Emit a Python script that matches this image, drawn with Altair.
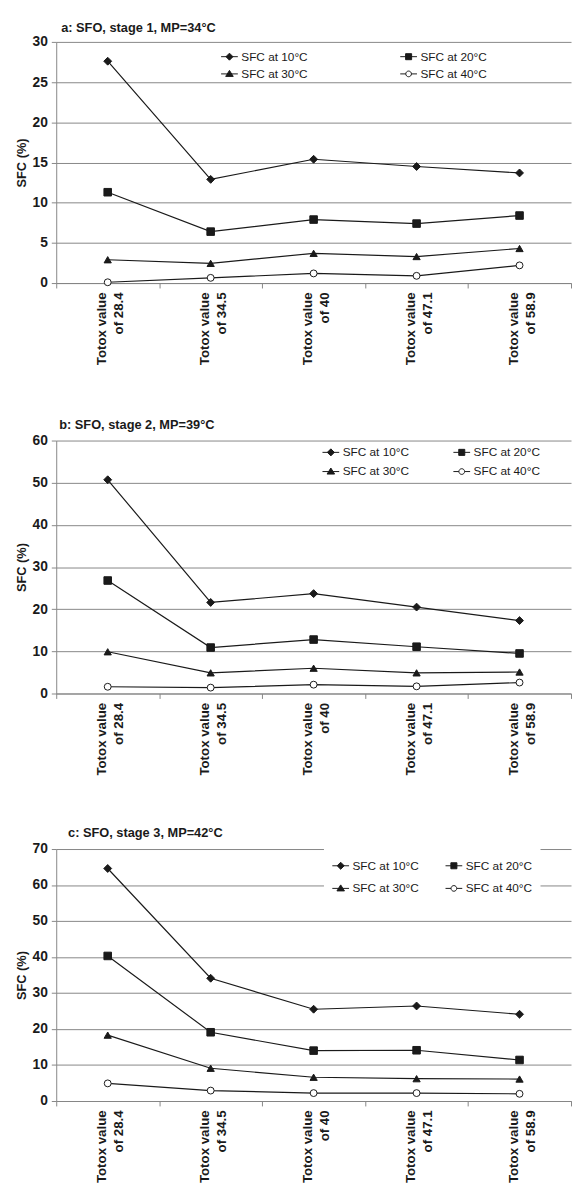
import altair as alt
import pandas as pd

categories = ["Totox value of 28.4", "Totox value of 34.5", "Totox value of 40",
              "Totox value of 47.1", "Totox value of 58.9"]
series = ["SFC at 10°C", "SFC at 20°C", "SFC at 30°C", "SFC at 40°C"]

# panel a: SFO, stage 1
a_10 = [27.6, 12.9, 15.4, 14.5, 13.7]
a_20 = [11.3, 6.4, 7.9, 7.4, 8.4]
a_30 = [2.9, 2.45, 3.7, 3.3, 4.3]
a_40 = [0.1, 0.65, 1.2, 0.9, 2.2]
# panel b: SFO, stage 2
b_10 = [50.7, 21.6, 23.7, 20.5, 17.3]
b_20 = [26.8, 10.9, 12.8, 11.1, 9.5]
b_30 = [9.9, 4.9, 6.0, 4.9, 5.1]
b_40 = [1.6, 1.4, 2.1, 1.7, 2.6]
# panel c: SFO, stage 3
c_10 = [64.6, 34.1, 25.5, 26.4, 24.1]
c_20 = [40.3, 19.1, 14.0, 14.1, 11.4]
c_30 = [18.3, 9.1, 6.6, 6.2, 6.1]
c_40 = [4.9, 2.9, 2.2, 2.2, 2.0]

titles = ["a: SFO, stage 1, MP=34°C", "b: SFO, stage 2, MP=39°C", "c: SFO, stage 3, MP=42°C"]

FONT = "Liberation Sans"
INK = "#1a1a1a"
GRID = "#868686"

chart_shapes = ["diamond", "square", "triangle-up", "circle"]
chart_sizes = [64, 49, 56, 40]
legend_shapes = [
    "M-1,0L1,0M0,-0.42L0.42,0L0,0.42L-0.42,0Z",
    "M-1,0L1,0M-0.36,-0.36L0.36,-0.36L0.36,0.36L-0.36,0.36Z",
    "M-1,0L1,0M0,-0.42L0.45,0.3L-0.45,0.3Z",
    "M-1,0L-0.34,0M0.34,0L1,0M-0.34,0A0.34,0.34 0 1,1 0.34,0A0.34,0.34 0 1,1 -0.34,0Z",
]
fills = [INK, INK, INK, "white"]

RS = dict(shape="independent", fill="independent", stroke="independent", size="independent")
RL = dict(shape="independent", fill="independent", stroke="independent")


def panel(title, vals, ymax, step, height, t_offset, t_dx, leg):
    rows = []
    for s, v in zip(series, vals):
        for c, y in zip(categories, v):
            rows.append({"cat": c, "series": s, "sfc": y})
    df = pd.DataFrame(rows)

    x = alt.X(
        "cat:N", sort=categories, title=None, bandPosition=0.5,
        scale=alt.Scale(type="band", paddingInner=0, paddingOuter=0),
        axis=alt.Axis(
            labelAngle=270, tickBand="extent", ticks=True, tickSize=5,
            tickColor=GRID, domainColor=GRID, grid=False,
            labelFont=FONT, labelFontSize=13.5, labelFontWeight="bold",
            labelColor=INK, labelLineHeight=17, labelPadding=4, labelOffset=-6,
            labelExpr="datum.label ? ['Totox value', replace(datum.label, 'Totox value ', '')] : ''",
        ),
    )
    y = alt.Y(
        "sfc:Q", scale=alt.Scale(domain=[0, ymax], nice=False),
        axis=alt.Axis(
            values=list(range(0, ymax + 1, step)), grid=True, gridColor=GRID,
            gridWidth=1, domainColor=GRID, tickColor=GRID, tickSize=5,
            labelFont=FONT, labelFontSize=14, labelFontWeight="bold",
            labelColor=INK, labelPadding=4, title="SFC (%)", titleFont=FONT,
            titleFontSize=13, titleFontWeight="bold", titleColor=INK,
            titlePadding=4,
        ),
    )
    base = alt.Chart(df)
    lines = base.mark_line(color=INK, strokeWidth=1.2).encode(x=x, y=y, detail="series:N")
    points = base.mark_point(opacity=1, stroke=INK, strokeWidth=1).encode(
        x=x, y=y,
        shape=alt.Shape("series:N", scale=alt.Scale(domain=series, range=chart_shapes), legend=None),
        fill=alt.Fill("series:N", scale=alt.Scale(domain=series, range=fills), legend=None),
        size=alt.Size("series:N", scale=alt.Scale(domain=series, range=chart_sizes), legend=None),
    )
    lg = dict(
        orient="none", legendX=leg["x"], legendY=leg["y"], columns=2,
        direction="horizontal",
        columnPadding=leg["cp"], rowPadding=leg["rp"], symbolSize=289,
        symbolStrokeColor=INK, symbolStrokeWidth=1, symbolOpacity=1,
        labelFont=FONT, labelFontSize=12, labelColor=INK, labelOffset=3,
        title=None, padding=leg["pad"], labelLimit=0,
    )
    if leg.get("fill"):
        lg["fillColor"] = "white"
    legend_layer = base.mark_point(opacity=1, strokeWidth=1).encode(
        x=x, y=y,
        shape=alt.Shape("series:N", scale=alt.Scale(domain=series, range=legend_shapes),
                        legend=alt.Legend(**lg)),
        fill=alt.Fill("series:N", scale=alt.Scale(domain=series, range=fills),
                      legend=alt.Legend(**lg)),
        stroke=alt.Stroke("series:N", scale=alt.Scale(domain=series, range=[INK] * 4),
                          legend=alt.Legend(**lg)),
    ).transform_filter("false")

    return alt.layer(lines, points, legend_layer).resolve_scale(**RS).properties(
        width=523, height=height,
        title=alt.TitleParams(
            title, anchor="start", frame="group", offset=t_offset, dx=t_dx,
            font=FONT, fontSize=13, fontWeight="bold", color=INK,
        ),
    )


pa = panel(titles[0], [a_10, a_20, a_30, a_40], 30, 5, 245, 0, 5,
           {"x": 167, "y": 6, "cp": 91, "rp": 2.5, "pad": 0})
pb = panel(titles[1], [b_10, b_20, b_30, b_40], 60, 10, 257, 2, 3,
           {"x": 269, "y": 2, "cp": 42, "rp": 4.5, "pad": 1})
pc = panel(titles[2], [c_10, c_20, c_30, c_40], 70, 10, 256, 2, 12,
           {"x": 272, "y": 0, "cp": 24, "rp": 8, "pad": 8, "fill": True})

top = alt.vconcat(pa, pb, spacing=54).resolve_scale(**RS).resolve_legend(**RL)
chart = alt.vconcat(top, pc, spacing=52).resolve_scale(**RS).resolve_legend(**RL).properties(
    padding={"left": 7, "top": 5, "right": 0, "bottom": 0},
    background="white",
).configure_view(stroke=None)

chart.save("out.html", embed_options={"renderer": "svg", "actions": False})
